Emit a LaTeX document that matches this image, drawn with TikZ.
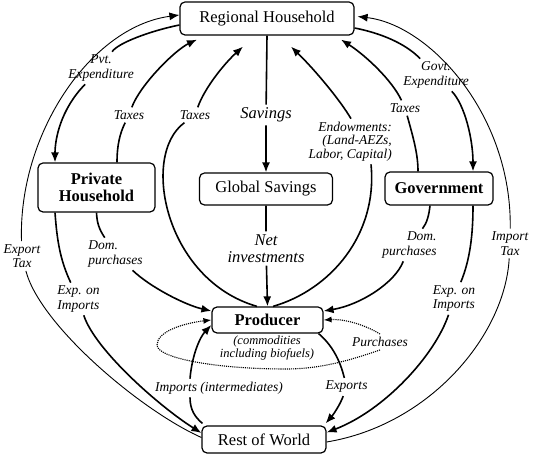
\documentclass[tikz,border=0pt]{standalone}
\usepackage{fontspec}
\setmainfont{Liberation Serif}
\usetikzlibrary{arrows.meta}

\begin{document}
\begin{tikzpicture}[x=1pt, y=1pt,
	caja/.style={draw, line width=1.2pt, rounded corners=5pt, fill=white, inner sep=2pt, align=center, font=\fontsize{16.5}{16.5}\selectfont},
	cajab/.style={caja, font=\fontsize{16.5}{16.5}\selectfont\bfseries},
	etiq/.style={inner sep=3pt, align=center, font=\fontsize{13.5}{14.5}\selectfont\itshape},
	etiqg/.style={etiq, font=\fontsize{16.5}{17}\selectfont\itshape},
	flujo/.style={line width=1.6pt, -{Latex[length=10pt,width=8pt]}},
	flujof/.style={line width=0.9pt, -{Latex[length=10pt,width=8pt]}},
	compra/.style={line width=1.1pt, densely dotted, -{Latex[length=8pt,width=6pt]}}]
	\useasboundingbox (0,0) rectangle (533,455);
	
	% Cajas
	\node (rh) at (267,436.5) [caja, minimum width=174pt, minimum height=33pt] {Regional Household};
	\node (ph) at (96.5,267.5) [cajab, minimum width=117pt, minimum height=49pt] {Private\\Household};
	\node (gs) at (266,266) [caja, minimum width=133pt, minimum height=32pt] {Global Savings};
	\node (gov) at (439,266.5) [cajab, minimum width=108pt, minimum height=33pt] {Government};
	\node (prod) at (267.5,135) [cajab, minimum width=111pt, minimum height=26pt] {Producer};
	\node (row) at (264,15.5) [caja, minimum width=124pt, minimum height=27pt] {Rest of World};
	\node (lblcomm) at (267,107) [etiq, inner sep=0pt, font=\fontsize{12.5}{12.5}\selectfont\itshape] {(commodities\\including biofuels)};
	
	% Etiquetas
	\node (lblexp) at (22,199) [etiq] {Export\\Tax};
	\node (lblpvt) at (101,387) [etiq] {Pvt.\\Expenditure};
	\node (lbltaxph) at (129,340) [etiq] {Taxes};
	\node (lbltaxprod) at (195,340) [etiq] {Taxes};
	\node (lblsav) at (266,340) [etiqg] {Savings};
	\node (lblendow) at (395,313.5) [etiq, anchor=east, align=right, font=\fontsize{13.5}{13.5}\selectfont\itshape] {Endowments:\\(Land-AEZs,\\Labor, Capital)};
	\node (lblgov) at (436,380) [etiq] {Govt.\\Expenditure};
	\node (lbltaxgov) at (405,347) [etiq] {Taxes};
	\node (lblimp) at (510,211.5) [etiq] {Import\\Tax};
	\node (lbldomph) at (115.5,201) [etiq, align=left] {Dom.\\purchases};
	\node (lbldomgov) at (409.5,210) [etiq, align=right] {Dom.\\purchases};
	\node (lblexpph) at (78.5,156) [etiq, align=left] {Exp. on\\Imports};
	\node (lblexpgov) at (454,156.5) [etiq, align=left] {Exp. on\\Imports};
	\node (lblnet) at (266,206.5) [etiqg] {Net\\investments};
	\node (lblpurch) at (380,113) [etiq] {Purchases};
	\node (lblexports) at (346.5,68) [etiq] {Exports};
	\node (lblimpint) at (219,67) [etiq] {Imports (intermediates)};
	
	% Impuestos sobre el comercio
	\draw[flujof] ([yshift=2pt]row.west) .. controls (140,45) and (40,130) .. (lblexp)
		.. controls (18,320) and (90,428) .. ([yshift=3.5pt]rh.west);
	\draw[flujof] ([yshift=-2.5pt]row.east) .. controls (430,30) and (505,120) .. (lblimp)
		.. controls (512,340) and (430,430) .. ([xshift=3pt,yshift=2pt]rh.east);
	
	% Hogar privado
	\draw[flujo] ([yshift=-6.5pt]rh.west) .. controls (150,424) and (118,412) .. (lblpvt)
		.. controls (60,345) and (55,315) .. ([xshift=-41.5pt]ph.north);
	\draw[flujo] ([xshift=20.5pt]ph.north) .. controls (117,310) and (120,322) .. (lbltaxph)
		.. controls (140,370) and (175,405) .. ([xshift=-70pt,yshift=-4pt]rh.south);
	\draw[flujo] (ph.south) .. controls (97,232) and (99,226) .. (lbldomph)
		.. controls (150,168) and (185,150) .. ([yshift=9pt]prod.west);
	\draw[flujo] ([xshift=-41.5pt]ph.south) .. controls (57,215) and (60,195) .. (lblexpph)
		.. controls (95,105) and (160,48) .. ([yshift=6.5pt]row.west);
	
	% Ahorro e inversion
	\draw[flujo] (rh.south) -- (lblsav) -- (gs.north);
	\draw[flujo] (gs.south) -- (lblnet) -- (prod.north);
	
	% Productor
	\draw[flujo] ([xshift=-10.5pt]prod.north) .. controls (165,175) and (140,300) .. (lbltaxprod)
		.. controls (205,368) and (225,392) .. ([xshift=-24pt,yshift=-11pt]rh.south);
	\draw[flujo] ([xshift=5.5pt]prod.north) .. controls (330,165) and (378,220) .. ([xshift=-24pt]lblendow.south east)
		([xshift=-44pt]lblendow.north east) .. controls (340,355) and (315,385) .. ([xshift=24pt,yshift=-11pt]rh.south);
	\draw[flujo] ([xshift=-5pt]prod.south east) .. controls (332,110) and (340,95) .. (lblexports)
		.. controls (340,50) and (333,40) .. ([xshift=-1pt,yshift=2pt]row.north east);
	\draw[flujo] ([xshift=1pt,yshift=2pt]row.north west) .. controls (195,38) and (190,45) .. ([xshift=-29pt]lblimpint.south)
		([xshift=-29pt]lblimpint.north) .. controls (192,100) and (200,118) .. ([yshift=-5pt]prod.west);
	
	% Gobierno
	\draw[flujo] ([yshift=-9.5pt]rh.east) .. controls (380,422) and (405,412) .. (lblgov)
		.. controls (465,350) and (473,315) .. ([xshift=34pt]gov.north);
	\draw[flujo] ([xshift=-21pt]gov.north) .. controls (418,300) and (414,315) .. (lbltaxgov)
		.. controls (392,375) and (365,400) .. ([xshift=74pt,yshift=-4pt]rh.south);
	\draw[flujo] ([xshift=-9pt]gov.south) .. controls (429,240) and (427,232) .. (lbldomgov)
		.. controls (395,172) and (360,150) .. ([yshift=9pt]prod.east);
	\draw[flujo] ([xshift=34pt]gov.south) .. controls (473,220) and (470,195) .. (lblexpgov)
		.. controls (435,100) and (385,45) .. ([yshift=7pt]row.east);
	
	% Compras
	\draw[compra] (lblpurch.north) .. controls (360,133) and (340,136) .. (prod.east);
	\draw[compra] (lblpurch.south) .. controls (351,95) and (321,86) .. (286,86)
		.. controls (215,86) and (157,97) .. (157,110)
		.. controls (157,124) and (185,132) .. (prod.west);
\end{tikzpicture}
\end{document}
